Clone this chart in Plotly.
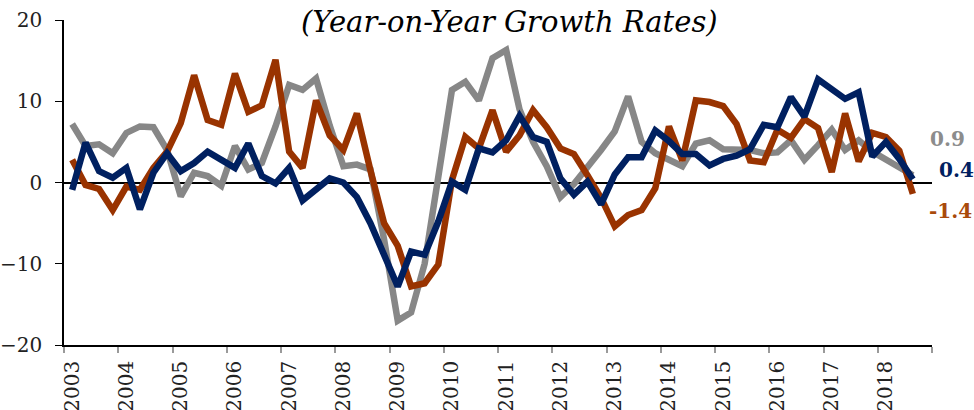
import pandas as pd
import plotly.graph_objects as go

# Quarterly periods 2003Q1 .. 2018Q3
quarters = pd.period_range("2003Q1", "2018Q3", freq="Q")

gray_vals = [7.2, 4.5, 4.7, 3.6, 6.1, 6.9, 6.8, 4.0, -1.7, 1.2, 0.8, -0.4, 4.5, 1.6, 2.4, 6.9,
             12.0, 11.4, 12.8, 7.0, 2.0, 2.2, 1.6, -7.0, -17.0, -16.0, -10.0, 1.0, 11.4, 12.4, 10.1, 15.3,
             16.3, 9.0, 5.0, 2.0, -1.8, -0.2, 1.8, 4.0, 6.3, 10.6, 5.0, 3.6, 2.8, 2.0, 4.8, 5.2,
             4.1, 4.1, 4.0, 3.6, 3.7, 5.2, 2.8, 4.6, 6.5, 4.0, 5.2, 3.8, 2.8, 2.0, 0.9]

orange_vals = [2.8, -0.3, -0.8, -3.4, -0.5, -0.9, 1.8, 3.8, 7.3, 13.2, 7.7, 7.1, 13.4, 8.7, 9.5, 15.1,
               3.8, 1.8, 10.1, 5.8, 4.0, 8.5, 1.5, -5.0, -7.8, -12.8, -12.4, -10.1, 0.3, 5.6, 4.2, 8.9,
               3.8, 5.8, 8.9, 6.8, 4.2, 3.5, 0.9, -1.9, -5.4, -4.0, -3.4, -0.7, 6.9, 2.7, 10.1, 9.9,
               9.4, 7.2, 2.7, 2.5, 6.5, 5.5, 7.8, 6.7, 1.3, 8.5, 2.6, 6.1, 5.6, 3.9, -1.4]

navy_vals = [-0.9, 4.9, 1.4, 0.6, 1.8, -3.3, 1.2, 3.6, 1.4, 2.4, 3.8, 2.8, 1.8, 4.8, 0.8, -0.1,
             1.8, -2.2, -0.9, 0.5, 0.0, -1.8, -5.0, -8.8, -12.8, -8.5, -8.9, -4.8, 0.1, -0.9, 4.2, 3.7,
             5.2, 8.2, 5.6, 5.0, 0.5, -1.5, 0.1, -2.7, 1.0, 3.1, 3.1, 6.4, 5.1, 3.5, 3.5, 2.1,
             2.9, 3.3, 4.1, 7.1, 6.8, 10.5, 8.1, 12.7, 11.5, 10.3, 11.1, 3.2, 5.0, 2.9, 0.4]

year_ticks = [str(y) for y in range(2003, 2020)]
year_labels = [str(y) for y in range(2003, 2019)] + [""]
end_labels = ["0.9", "0.4", "-1.4"]
title_text = "(Year-on-Year Growth Rates)"

x_dates = [p.start_time + pd.Timedelta(days=55) for p in quarters]

GRAY = "#878787"
ORANGE = "#993300"
NAVY = "#002060"
FONT = "DejaVu Serif"

fig = go.Figure()
for vals, col in [(gray_vals, GRAY), (orange_vals, ORANGE), (navy_vals, NAVY)]:
    fig.add_trace(go.Scatter(x=x_dates, y=vals, mode="lines",
                             line=dict(color=col, width=6.5), hoverinfo="skip"))

fig.update_layout(
    width=974, height=410,
    margin=dict(l=64, r=42, t=20, b=65),
    paper_bgcolor="white", plot_bgcolor="white",
    showlegend=False,
    font=dict(family=FONT, size=20, color="black"),
)

fig.update_xaxes(
    type="date",
    range=[year_ticks[0] + "-01-01", year_ticks[-1] + "-01-01"],
    tickvals=[y + "-01-01" for y in year_ticks],
    ticktext=year_labels,
    tickangle=-90,
    ticks="outside", ticklen=6, tickcolor="#9a9a9a", tickwidth=1.5,
    showline=True, linecolor="black", linewidth=1.5,
    showgrid=False, zeroline=False,
    ticklabelshift=8, ticklabelstandoff=0,
    tickfont=dict(family=FONT, size=20, color="#222"),
    automargin=False,
)
fig.update_yaxes(
    range=[-20, 20],
    tickvals=[-20, -10, 0, 10, 20],
    ticks="outside", ticklen=7, tickcolor="black", tickwidth=1.2,
    showline=True, linecolor="black", linewidth=1.5,
    showgrid=False,
    zeroline=True, zerolinecolor="black", zerolinewidth=1.5,
    ticklabelstandoff=9,
    tickfont=dict(family=FONT, size=20, color="#222"),
    automargin=False,
)

fig.add_annotation(text="<i>" + title_text + "</i>", xref="paper", yref="paper",
                   x=0.513, y=0.995, xanchor="center", yanchor="middle", showarrow=False,
                   font=dict(family=FONT, size=29, color="black"))

for txt, col, yp, xp in [(end_labels[0], "#8C8C8C", 0.634, 0.9954),
                          (end_labels[1], NAVY, 0.538, 1.0058),
                          (end_labels[2], "#A94A0B", 0.412, 0.9942)]:
    fig.add_annotation(text="<b>" + txt + "</b>", xref="paper", yref="paper",
                       x=xp, y=yp, xanchor="left", yanchor="middle", showarrow=False,
                       font=dict(family=FONT, size=20, color=col))

fig.write_html("out.html", config={"displayModeBar": False},
               post_script="document.body.style.margin='0';document.body.style.overflow='hidden';")
